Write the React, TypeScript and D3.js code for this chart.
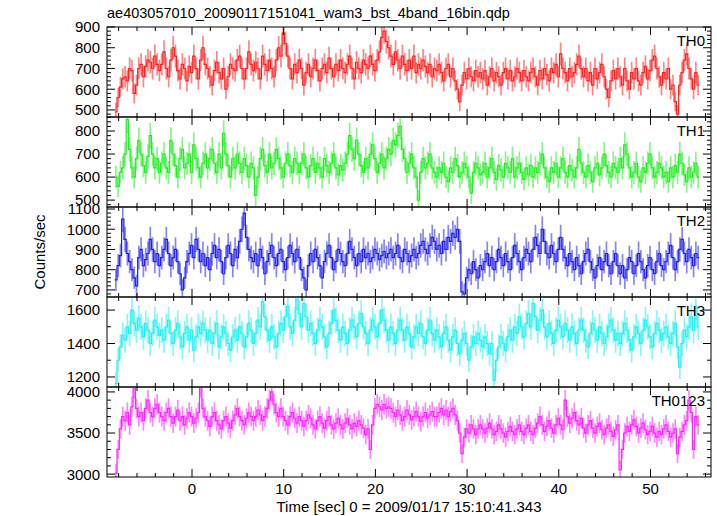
import React from "react";
import * as d3 from "d3";

const TITLE = "ae403057010_20090117151041_wam3_bst_4band_16bin.qdp";
const X_LABEL = "Time [sec] 0 = 2009/01/17 15:10:41.343";
const Y_LABEL = "Counts/sec";

const TIME_START = -8.3;
const BIN_WIDTH = 0.25;
const X_DOMAIN = [-9.27, 56.6];
const X_TICKS = [0, 10, 20, 30, 40, 50];

const panelNames = ["TH0", "TH1", "TH2", "TH3", "TH0123"];

const th0 = [
  490, 560, 610, 650, 660, 640, 700, 690, 580, 620, 700, 720, 660, 710, 740, 730, 700, 760, 720, 690,
  720, 780, 700, 660, 740, 800, 760, 690, 650, 720, 700, 640, 710, 680, 760, 700, 650, 740, 800, 720,
  700, 660, 620, 690, 730, 680, 650, 700, 600, 660, 720, 700, 690, 740, 760, 700, 650, 700, 780, 720,
  690, 730, 700, 650, 760, 720, 690, 740, 700, 660, 740, 800, 760, 870, 820, 760, 700, 650, 720, 680,
  740, 700, 620, 680, 720, 660, 700, 740, 690, 640, 700, 720, 680, 750, 700, 660, 720, 690, 740, 700,
  680, 720, 760, 700, 650, 730, 700, 680, 740, 720, 700, 760, 720, 690, 740, 780, 850, 880, 830, 800,
  760, 720, 780, 740, 700, 760, 720, 690, 740, 700, 760, 680, 720, 700, 740, 710, 680, 720, 660, 700,
  690, 720, 680, 640, 700, 720, 660, 700, 640, 600, 540, 620, 680, 650, 700, 660, 640, 690, 660, 680,
  650, 690, 620, 660, 700, 640, 680, 660, 620, 680, 700, 650, 690, 640, 660, 700, 680, 640, 690, 660,
  640, 680, 700, 660, 620, 690, 650, 700, 670, 640, 700, 680, 720, 660, 770, 700, 680, 640, 700, 660,
  680, 720, 760, 700, 660, 700, 640, 680, 620, 700, 650, 680, 720, 660, 600, 560, 640, 690, 650, 700,
  660, 620, 700, 640, 600, 680, 650, 700, 640, 620, 680, 710, 650, 690, 740, 760, 700, 660, 620, 680,
  650, 700, 600, 620, 540, 480, 620, 680, 740, 770, 700, 650, 600, 680, 620,
];

const th1 = [
  600, 560, 620, 640, 700, 850, 720, 640, 600, 680, 760, 700, 650, 620, 690, 780, 700, 640, 680, 620,
  660, 700, 640, 620, 760, 700, 650, 600, 680, 720, 640, 660, 700, 620, 740, 680, 640, 600, 660, 700,
  640, 680, 720, 660, 620, 700, 640, 790, 700, 650, 600, 680, 640, 700, 660, 620, 680, 650, 600, 660,
  640, 520, 600, 680, 720, 650, 620, 700, 640, 660, 720, 680, 640, 600, 660, 700, 650, 620, 680, 660,
  620, 660, 700, 640, 600, 650, 680, 620, 660, 640, 600, 680, 650, 620, 660, 700, 640, 610, 650, 630,
  660, 700, 780, 720, 680, 760, 700, 650, 620, 680, 640, 700, 740, 680, 620, 660, 700, 640, 680, 720,
  700, 760, 740, 780, 820, 720, 680, 620, 660, 700, 640, 600, 500, 620, 680, 640, 660, 700, 640, 620,
  600, 640, 620, 660, 600, 580, 640, 620, 680, 650, 600, 620, 660, 640, 600, 530, 620, 660, 640, 610,
  620, 660, 600, 640, 680, 620, 590, 650, 630, 600, 660, 640, 620, 680, 600, 640, 660, 620, 590, 640,
  610, 650, 600, 640, 620, 660, 700, 640, 600, 580, 640, 620, 660, 600, 640, 680, 620, 600, 650, 630,
  600, 640, 720, 660, 620, 600, 650, 620, 580, 640, 660, 610, 640, 700, 650, 620, 600, 660, 640, 620,
  680, 640, 740, 700, 640, 600, 620, 660, 600, 580, 640, 620, 660, 700, 640, 600, 620, 660, 640, 600,
  620, 580, 640, 600, 650, 620, 700, 660, 610, 580, 640, 600, 620, 660, 600,
];

const th2 = [
  750, 820, 870, 1050, 950, 880, 840, 800, 760, 720, 860, 900, 820, 850, 880, 950, 900, 840, 880, 820,
  860, 900, 950, 880, 820, 860, 900, 840, 780, 700, 760, 840, 880, 920, 860, 950, 900, 840, 880, 820,
  860, 800, 880, 920, 860, 900, 840, 780, 860, 920, 880, 820, 900, 860, 940, 1000, 1080, 960, 900, 860,
  840, 880, 820, 900, 860, 780, 840, 880, 920, 860, 820, 880, 900, 840, 800, 860, 920, 880, 840, 900,
  860, 800, 760, 700, 820, 880, 840, 900, 860, 820, 760, 840, 880, 920, 860, 800, 840, 900, 880, 840,
  820, 880, 940, 900, 860, 820, 880, 840, 900, 860, 880, 840, 860, 900, 880, 850, 870, 890, 860, 880,
  900, 860, 880, 920, 860, 840, 900, 880, 840, 870, 900, 860, 880, 920, 940, 900, 880, 920, 960, 940,
  900, 920, 880, 940, 900, 960, 940, 980, 960, 1000, 940, 690, 680, 760, 800, 780, 840, 800, 760, 820,
  800, 840, 880, 820, 860, 800, 840, 900, 860, 820, 880, 840, 800, 860, 920, 880, 840, 800, 860, 900,
  880, 840, 900, 960, 920, 880, 1000, 940, 880, 860, 920, 880, 840, 900, 960, 900, 860, 820, 880, 840,
  800, 860, 820, 780, 840, 880, 900, 840, 800, 760, 820, 860, 800, 840, 880, 820, 780, 840, 880, 820,
  780, 820, 760, 800, 860, 840, 780, 820, 880, 840, 800, 760, 820, 860, 800, 780, 840, 880, 820, 800,
  840, 880, 920, 860, 800, 840, 900, 950, 880, 840, 900, 860, 820, 880, 860,
];

const th3 = [
  1160, 1300, 1380, 1450, 1420, 1500, 1460, 1600, 1520, 1480, 1550, 1500, 1440, 1520, 1480, 1400, 1460, 1540, 1500, 1450,
  1480, 1420, 1500, 1540, 1460, 1400, 1480, 1520, 1440, 1380, 1460, 1500, 1420, 1480, 1360, 1440, 1500, 1460, 1520, 1480,
  1420, 1480, 1400, 1460, 1520, 1380, 1440, 1500, 1460, 1400, 1360, 1440, 1480, 1420, 1500, 1460, 1380, 1440, 1520, 1480,
  1400, 1460, 1540, 1500, 1650, 1560, 1480, 1420, 1500, 1440, 1380, 1460, 1520, 1480, 1560, 1620, 1500, 1460, 1540, 1680,
  1580, 1500, 1640, 1560, 1480, 1520, 1460, 1400, 1480, 1540, 1500, 1440, 1380, 1460, 1520, 1600, 1540, 1480, 1420, 1500,
  1460, 1400, 1480, 1540, 1500, 1440, 1520, 1580, 1500, 1460, 1400, 1480, 1540, 1500, 1440, 1520, 1600, 1540, 1480, 1420,
  1500, 1460, 1400, 1480, 1540, 1480, 1420, 1500, 1460, 1380, 1440, 1500, 1460, 1520, 1440, 1400, 1480, 1540, 1460, 1420,
  1480, 1440, 1380, 1460, 1500, 1420, 1360, 1440, 1480, 1400, 1340, 1420, 1460, 1400, 1300, 1380, 1440, 1400, 1460, 1420,
  1380, 1440, 1400, 1340, 1400, 1180, 1300, 1380, 1440, 1400, 1360, 1440, 1480, 1420, 1500, 1460, 1560, 1500, 1440, 1520,
  1580, 1500, 1640, 1560, 1480, 1540, 1600, 1500, 1440, 1520, 1460, 1400, 1480, 1540, 1500, 1440, 1520, 1480, 1420, 1500,
  1460, 1400, 1480, 1540, 1480, 1420, 1380, 1460, 1520, 1480, 1420, 1500, 1460, 1400, 1440, 1500, 1540, 1480, 1420, 1460,
  1400, 1460, 1520, 1480, 1420, 1360, 1440, 1500, 1460, 1400, 1480, 1540, 1500, 1440, 1380, 1460, 1520, 1480, 1420, 1460,
  1500, 1440, 1400, 1460, 1520, 1380, 1260, 1400, 1480, 1440, 1500, 1560, 1480, 1620, 1500,
];

const th0123 = [
  3010, 3300, 3550, 3700, 3650, 3750, 3600, 3820, 4050, 3800, 3700, 3750, 3650, 3800, 3900, 3750, 3700, 3800, 3850, 3750,
  3700, 3650, 3750, 3800, 3700, 3620, 3700, 3780, 3650, 3700, 3600, 3680, 3750, 3700, 3620, 3680, 3750, 4060, 3800, 3700,
  3650, 3580, 3700, 3750, 3650, 3600, 3550, 3650, 3700, 3620, 3560, 3650, 3720, 3800, 3700, 3650, 3600, 3680, 3750, 3700,
  3650, 3700, 3780, 3720, 3650, 3700, 3800, 3900, 4000, 3850, 3750, 3700, 3800, 3700, 3650, 3600, 3700, 3750, 3680, 3620,
  3700, 3650, 3580, 3650, 3720, 3680, 3600, 3550, 3650, 3700, 3620, 3560, 3650, 3700, 3600, 3550, 3620, 3680, 3600, 3550,
  3620, 3680, 3600, 3550, 3620, 3580, 3650, 3600, 3560, 3480, 3550, 3300, 3600, 3800, 3850, 3820, 3780, 3850, 3800, 3820,
  3800, 3750, 3700, 3780, 3720, 3650, 3700, 3780, 3720, 3660, 3700, 3760, 3700, 3640, 3700, 3750, 3680, 3720, 3760, 3700,
  3700, 3750, 3800, 3720, 3780, 3700, 3760, 3800, 3720, 3650, 3500, 3250, 3450, 3550, 3500, 3600, 3550, 3480, 3550, 3600,
  3550, 3500, 3560, 3620, 3550, 3480, 3520, 3600, 3550, 3500, 3450, 3520, 3580, 3520, 3480, 3550, 3600, 3520, 3480, 3560,
  3600, 3520, 3480, 3560, 3620, 3700, 3600, 3520, 3580, 3650, 3560, 3500, 3600, 3680, 3600, 3540, 3900, 3700, 3620, 3680,
  3750, 3650, 3600, 3680, 3560, 3500, 3600, 3650, 3560, 3500, 3580, 3620, 3540, 3480, 3560, 3600, 3520, 3460, 3540, 3600,
  3050, 3300, 3500, 3580, 3520, 3600, 3660, 3580, 3500, 3560, 3620, 3540, 3480, 3520, 3580, 3500, 3450, 3520, 3480, 3550,
  3600, 3520, 3450, 3500, 3550, 3250, 3450, 3520, 3600, 3650, 3900, 3750, 3300, 3700, 3600,
];

const panelValues = [th0, th1, th2, th3, th0123];
const panelDomains = [[466, 900], [470, 861], [665, 1110], [1140, 1678], [2965, 4060]];
const panelMajorTicks = [
  [500, 600, 700, 800, 900],
  [500, 600, 700, 800],
  [700, 800, 900, 1000, 1100],
  [1200, 1400, 1600],
  [3000, 3500, 4000],
];
const panelMinorSteps = [20, 20, 20, 100, 100];
const panelColors = ["#ff2020", "#20ee20", "#2020ee", "#20f0f0", "#ff20ff"];

const W = 717;
const H = 516;
const LEFT = 107;
const RIGHT = 711;
const TOP = 27;
const PANEL_H = 90;
const FONT = "'Liberation Sans', Arial, Helvetica, sans-serif";

export default function App() {
  const x = d3.scaleLinear().domain(X_DOMAIN).range([LEFT, RIGHT]);
  const xMinor = d3.range(-8, 57, 2);

  return (
    <svg width={W} height={H} style={{ position: "absolute", left: 0, top: 0, background: "#fff" }}>
      <rect x={0} y={0} width={W} height={H} fill="#fff" />
      <text x={LEFT} y={18} fontFamily={FONT} fontSize={14.5} fill="#000">{TITLE}</text>
      {panelValues.map((vals, p) => {
        const top = TOP + p * PANEL_H;
        const bottom = top + PANEL_H;
        const y = d3.scaleLinear().domain(panelDomains[p]).range([bottom, top]);
        const color = panelColors[p];
        const pts: [number, number][] = [];
        vals.forEach((v, i) => {
          const t = TIME_START + i * BIN_WIDTH;
          pts.push([x(t - BIN_WIDTH / 2), y(v)]);
          pts.push([x(t + BIN_WIDTH / 2), y(v)]);
        });
        const line = d3.line<[number, number]>()(pts) || "";
        const [d0, d1] = panelDomains[p];
        const minorTicks = d3.range(Math.ceil(d0 / panelMinorSteps[p]) * panelMinorSteps[p], d1 + 0.001, panelMinorSteps[p])
          .filter((v) => !panelMajorTicks[p].includes(v));
        const clipId = `clip${p}`;
        return (
          <g key={p}>
            <defs>
              <clipPath id={clipId}>
                <rect x={LEFT} y={top} width={RIGHT - LEFT} height={PANEL_H} />
              </clipPath>
            </defs>
            <g clipPath={`url(#${clipId})`}>
              {vals.map((v, i) => {
                const t = TIME_START + i * BIN_WIDTH;
                const err = Math.sqrt(v / BIN_WIDTH);
                return (
                  <line key={i} x1={x(t)} x2={x(t)} y1={y(v - err)} y2={y(v + err)}
                    stroke={color} strokeOpacity={0.55} strokeWidth={1.7} />
                );
              })}
              <path d={line} fill="none" stroke={color} strokeWidth={1.2} />
            </g>
            <rect x={LEFT} y={top} width={RIGHT - LEFT} height={PANEL_H} fill="none" stroke="#000" strokeWidth={1} />
            {panelMajorTicks[p].map((v) => (
              <g key={"ym" + v}>
                <line x1={LEFT} x2={LEFT + 8} y1={y(v)} y2={y(v)} stroke="#000" />
                <line x1={RIGHT} x2={RIGHT - 8} y1={y(v)} y2={y(v)} stroke="#000" />
                <text x={LEFT - 7} y={y(v)} dy="0.36em" textAnchor="end" fontFamily={FONT} fontSize={15} fill="#000">{v}</text>
              </g>
            ))}
            {minorTicks.map((v) => (
              <g key={"yn" + v}>
                <line x1={LEFT} x2={LEFT + 4} y1={y(v)} y2={y(v)} stroke="#000" />
                <line x1={RIGHT} x2={RIGHT - 4} y1={y(v)} y2={y(v)} stroke="#000" />
              </g>
            ))}
            {xMinor.map((t) => {
              const len = t % 10 === 0 ? 8 : 4;
              return (
                <g key={"x" + t}>
                  <line x1={x(t)} x2={x(t)} y1={top} y2={top + len} stroke="#000" />
                  <line x1={x(t)} x2={x(t)} y1={bottom} y2={bottom - len} stroke="#000" />
                </g>
              );
            })}
            <text x={RIGHT - 6} y={top + 19} textAnchor="end" fontFamily={FONT} fontSize={15} fill="#000">{panelNames[p]}</text>
          </g>
        );
      })}
      {X_TICKS.map((t) => (
        <text key={t} x={x(t)} y={TOP + 5 * PANEL_H + 17} textAnchor="middle" fontFamily={FONT} fontSize={15} fill="#000">{t}</text>
      ))}
      <text x={(LEFT + RIGHT) / 2} y={512} textAnchor="middle" fontFamily={FONT} fontSize={15} fill="#000">{X_LABEL}</text>
      <text transform={`translate(45, ${TOP + 2.5 * PANEL_H}) rotate(-90)`} textAnchor="middle" fontFamily={FONT} fontSize={15} fill="#000">{Y_LABEL}</text>
    </svg>
  );
}
